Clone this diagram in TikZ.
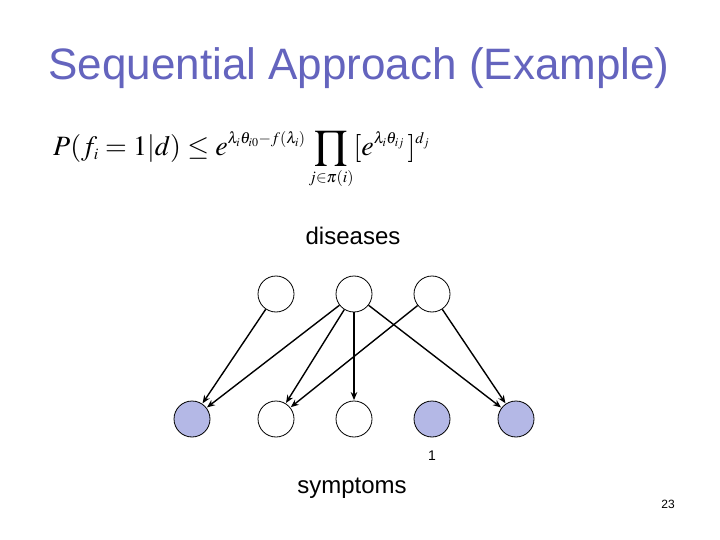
\documentclass[tikz,border=0pt]{standalone}
\usepackage{mathptmx}
\usepackage{fontspec}
\setmainfont{Liberation Sans}
\DeclareMathSizes{28}{28}{16}{12}
\usetikzlibrary{arrows.meta}
\definecolor{titleblue}{RGB}{100,100,190}
\definecolor{obsfill}{RGB}{180,184,230}
\tikzset{
  var/.style={circle, draw=black, line width=0.8pt, minimum size=36pt, inner sep=0pt, fill=white},
  obs/.style={var, fill=obsfill},
  edge/.style={-{Stealth[length=8pt,width=6.5pt]}, line width=1.4pt, shorten >=0.5pt},
  lbl/.style={font=\fontsize{24}{28}\selectfont, inner sep=0pt}
}
\begin{document}
\begin{tikzpicture}[x=1pt,y=-1pt]
\path[use as bounding box, fill=white] (0,0) rectangle (720,540);
\node[text=titleblue, font=\fontsize{44}{52}\selectfont, inner sep=0pt] (title) at (359,68) {Sequential Approach (Example)};
\node[inner sep=0pt, anchor=west, font=\fontsize{28}{34}\selectfont] (formula) at (53,160) {$\displaystyle P(f_i = 1 | d) \le e^{\lambda_i\theta_{i0} - f(\lambda_i)} \prod_{j\in\pi(i)} [e^{\lambda_i\theta_{ij}}\,]^{d_j}$};
\node[lbl] (dis) at (353,236) {diseases};
\node[lbl] (sym) at (352,488) {symptoms};
\node[var] (d1) at (276,294) {};
\node[var] (d2) at (354,294) {};
\node[var] (d3) at (432,294) {};
\node[obs] (s1) at (192,419) {};
\node[var] (s2) at (276,419) {};
\node[var] (s3) at (354,419) {};
\node[obs] (s4) at (432,419) {};
\node[obs] (s5) at (516,419) {};
\node[font=\fontsize{14}{16}\selectfont, inner sep=0pt] (one) at (432,456) {1};
\node[font=\fontsize{12}{14}\selectfont, inner sep=0pt] (page) at (668,504) {23};
\draw[edge] (d1) -- (s1);
\draw[edge] (d2) -- (s1);
\draw[edge] (d2) -- (s2);
\draw[edge] (d2) -- (s3);
\draw[edge] (d2) -- (s5);
\draw[edge] (d3) -- (s2);
\draw[edge] (d3) -- (s5);
\end{tikzpicture}
\end{document}
